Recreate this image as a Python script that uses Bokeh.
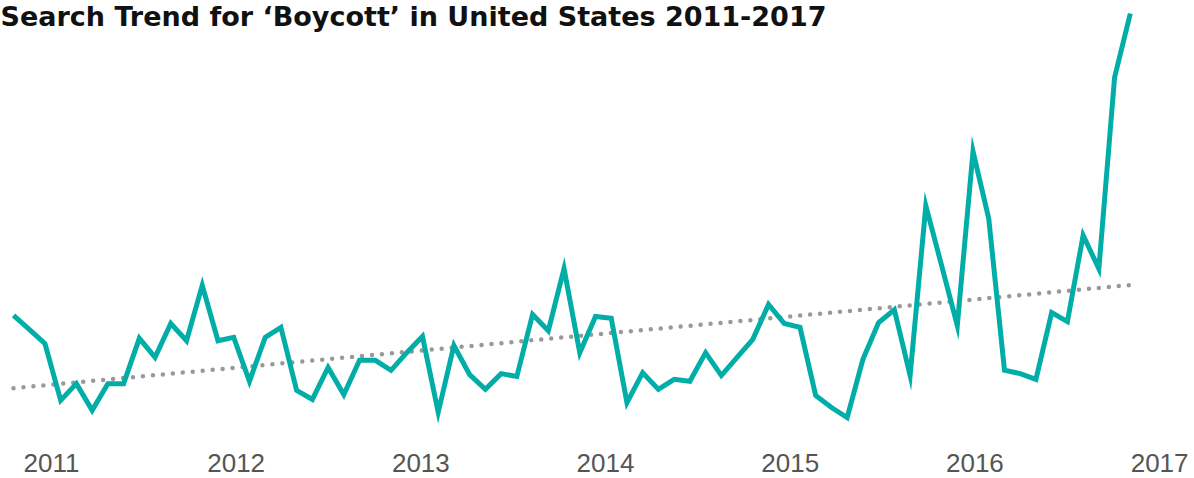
import numpy as np
from bokeh.plotting import figure
from bokeh.models import Range1d, LinearAxis, FixedTicker, Label
from bokeh.embed import file_html
from bokeh.resources import INLINE

# Monthly search interest, Jan 2011 .. Dec 2016 (index 0..71)
months = list(range(72))
interest = [
    36.7, 33.8, 30.8, 18.9, 22.4, 16.8, 22.4, 22.4, 31.9, 27.9, 35.0, 31.4,
    43.0, 31.4, 32.1, 22.9, 32.1, 34.2, 21.0, 19.1, 25.8, 20.1, 27.3, 27.3,
    25.2, 28.9, 32.3, 16.4, 30.4, 24.3, 21.2, 24.5, 23.9, 36.9, 33.5, 46.5,
    28.9, 36.5, 36.1, 18.4, 24.7, 21.2, 23.3, 22.9, 28.9, 24.1, 27.9, 31.7,
    39.0, 35.0, 34.2, 19.9, 17.4, 15.3, 27.5, 35.2, 37.9, 24.1, 59.7, 47.2,
    34.6, 71.1, 57.0, 25.2, 24.5, 23.3, 37.3, 35.4, 53.5, 46.5, 86.6, 100.0,
]
year_ticks = [2011, 2012, 2013, 2014, 2015, 2016, 2017]
year_labels = ["2011", "2012", "2013", "2014", "2015", "2016", "2017"]
title_text = "Search Trend for \u2018Boycott\u2019 in United States 2011-2017"

W, H = 1194, 478
BOTTOM = 30
FRAME_H = H - BOTTOM
PX_PER_UNIT = 4.77
Y0 = 490.0
y_top = Y0 / PX_PER_UNIT
y_bot = (Y0 - FRAME_H) / PX_PER_UNIT

p = figure(width=W, height=H, output_backend="svg", toolbar_location=None,
           x_axis_type=None, y_axis_type=None, min_border=0, min_border_bottom=BOTTOM,
           x_range=Range1d(-0.826, 75.08), y_range=Range1d(y_bot, y_top))
p.outline_line_color = None
p.background_fill_color = "white"
p.border_fill_color = "white"

p.extra_x_ranges = {"years": Range1d(2010.724, 2017.189)}
ax = LinearAxis(x_range_name="years", ticker=FixedTicker(ticks=year_ticks),
                major_label_overrides={t: l for t, l in zip(year_ticks, year_labels)})
ax.axis_line_color = None
ax.major_tick_line_color = None
ax.minor_tick_line_color = None
ax.major_tick_out = 0
ax.major_tick_in = 0
ax.major_label_standoff = 5
ax.major_label_text_font = "Liberation Sans"
ax.major_label_text_font_size = "26px"
ax.major_label_text_color = "#555555"
p.add_layout(ax, "below")

# trend line (least squares fit)
coef = np.polyfit(months, interest, 1)
tx = [months[0], months[-1]]
p.line(tx, list(np.polyval(coef, tx)), line_color="#999999", line_width=4.5,
       line_dash="0 10", line_cap="round")

p.line(months, interest, line_color="#00ADA7", line_width=5, line_join="miter")

title = Label(x=-0.826, y=y_top, text=title_text, text_baseline="top", text_align="left",
              text_font="DejaVu Sans", text_font_style="bold", text_font_size="27px",
              text_color="#111111", y_offset=0)
p.add_layout(title)

open("out.html", "w").write(file_html(p, INLINE))
